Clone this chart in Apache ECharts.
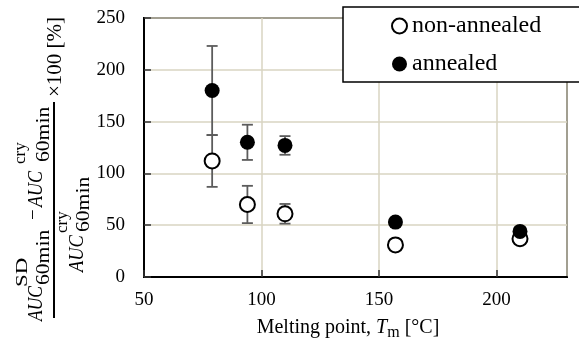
<!DOCTYPE html>
<html><head><meta charset="utf-8">
<script src="https://cdn.jsdelivr.net/npm/echarts@6/dist/echarts.min.js"></script>
<style>html,body{margin:0;padding:0;background:#fff}#c{width:579px;height:355px}</style>
</head><body><div id="c"></div>
<script>
// ---- data ----
const meltingPoints = [79, 94, 110, 157, 210];
const nonAnnealed = [112, 70, 61, 31, 37];
const nonAnnealedErr = [25, 18, 9.5, 3, 3];
const annealed = [180, 130, 127, 53, 44];
const annealedErr = [43, 17, 9, 4, 3];
const xTickLabels = [50, 100, 150, 200];
const yTickLabels = [0, 50, 100, 150, 200, 250];
const seriesNames = ['non-annealed', 'annealed'];

const SERIF = '"Liberation Serif", "Times New Roman", serif';
const chart = echarts.init(document.getElementById('c'), null, {renderer: 'canvas'});

function errData(vals, errs) {
  return meltingPoints.map((t, i) => [t, vals[i] - errs[i], vals[i] + errs[i]]);
}
function errRender(params, api) {
  const x = api.value(0);
  const pLo = api.coord([x, api.value(1)]);
  const pHi = api.coord([x, api.value(2)]);
  const hw = 5.5;
  const st = {stroke: '#5c5c5c', lineWidth: 1.8};
  return {type: 'group', children: [
    {type: 'line', shape: {x1: pLo[0], y1: pLo[1], x2: pHi[0], y2: pHi[1]}, style: st},
    {type: 'line', shape: {x1: pLo[0] - hw, y1: pLo[1], x2: pLo[0] + hw, y2: pLo[1]}, style: st},
    {type: 'line', shape: {x1: pHi[0] - hw, y1: pHi[1], x2: pHi[0] + hw, y2: pHi[1]}, style: st}
  ]};
}

function t(text, u, v, size, opts) {
  opts = opts || {};
  return {
    type: 'text', x: u, y: v, scaleX: opts.sx || 1,
    style: {
      text: text, fill: '#000',
      font: (opts.italic ? 'italic ' : '') + size + 'px ' + SERIF,
      align: 'left', textAlign: 'left', verticalAlign: 'middle', textVerticalAlign: 'middle'
    }
  };
}

const yLabel = {
  type: 'group', x: 54, y: 318, rotation: Math.PI / 2,
  children: [
    {type: 'line', shape: {x1: 0, y1: 0, x2: 216, y2: 0}, style: {stroke: '#000', lineWidth: 2}},
    // numerator
    t('AUC', -3, -17, 20, {italic: true, sx: 0.87}),
    t('SD', 31, -31, 17, {sx: 1.35}),
    t('60min', 33, -10, 18, {sx: 1.2}),
    t('\u2212', 98, -20, 19),
    t('AUC', 111, -17, 20, {italic: true, sx: 0.9}),
    t('cry', 154, -33, 17),
    t('60min', 156, -10, 18, {sx: 1.2}),
    // denominator
    t('AUC', 46, 24, 20, {italic: true, sx: 0.92}),
    t('cry', 85, 9, 17),
    t('60min', 86, 30, 18, {sx: 1.2}),
    // factor
    t('\u00d7100 [%]', 221, 1, 21)
  ]
};

const option = {
  animation: false,
  backgroundColor: '#fff',
  grid: {left: 144, top: 18, width: 423, height: 259, containLabel: false, outerBoundsMode: 'none',
         show: true, borderColor: '#000', borderWidth: 2, backgroundColor: 'transparent'},
  legend: {
    data: seriesNames, orient: 'vertical', left: 343, top: 7,
    padding: [7, 45, 6, 48], itemGap: 14, itemWidth: 15, itemHeight: 15,
    backgroundColor: '#fff', borderColor: '#000', borderWidth: 1.5, borderRadius: 0,
    textStyle: {fontFamily: SERIF, fontSize: 24, color: '#000'}, z: 10
  },
  xAxis: {
    type: 'value', min: 50, max: 230, interval: 50,
    name: 'Melting point, {it|T}{sub|m} [\u00b0C]', nameLocation: 'middle', nameGap: 35,
    nameTextStyle: {fontFamily: SERIF, fontSize: 20, color: '#000', lineHeight: 26, padding: [0, 15, 0, 0],
      rich: {
        it: {fontFamily: SERIF, fontSize: 20, fontStyle: 'italic', color: '#000', lineHeight: 26},
        sub: {fontFamily: SERIF, fontSize: 16, color: '#000', lineHeight: 16, verticalAlign: 'bottom'}
      }},
    axisLine: {show: true, onZero: false, lineStyle: {color: '#000', width: 2}},
    axisTick: {show: true, inside: true, length: 7, lineStyle: {color: '#333', width: 1.5}},
    axisLabel: {fontFamily: SERIF, fontSize: 19, color: '#000', margin: 14, showMaxLabel: false,
      formatter: v => (xTickLabels.indexOf(v) >= 0 ? String(v) : '')},
    splitLine: {show: true, lineStyle: {color: '#d9d5c2', width: 1.5}}
  },
  yAxis: {
    type: 'value', min: 0, max: 250, interval: 50,
    axisLine: {show: true, onZero: false, lineStyle: {color: '#000', width: 2}},
    axisTick: {show: true, inside: true, length: 7, lineStyle: {color: '#333', width: 1.5}},
    axisLabel: {fontFamily: SERIF, fontSize: 19, color: '#000', margin: 19,
      formatter: v => (yTickLabels.indexOf(v) >= 0 ? String(v) : '')},
    splitLine: {show: true, lineStyle: {color: '#d9d5c2', width: 1.5}}
  },
  graphic: [yLabel],
  series: [
    {name: 'err-non', type: 'custom', renderItem: errRender, data: errData(nonAnnealed, nonAnnealedErr), z: 2, silent: true},
    {name: 'err-ann', type: 'custom', renderItem: errRender, data: errData(annealed, annealedErr), z: 2, silent: true},
    {name: seriesNames[0], type: 'scatter', symbol: 'circle', symbolSize: 15, z: 3,
     itemStyle: {color: '#fff', borderColor: '#000', borderWidth: 2, opacity: 1},
     data: meltingPoints.map((x, i) => [x, nonAnnealed[i]])},
    {name: seriesNames[1], type: 'scatter', symbol: 'circle', symbolSize: 15, z: 4,
     itemStyle: {color: '#000', borderColor: '#000', borderWidth: 0, opacity: 1},
     data: meltingPoints.map((x, i) => [x, annealed[i]])}
  ]
};
chart.setOption(option);
</script></body></html>
